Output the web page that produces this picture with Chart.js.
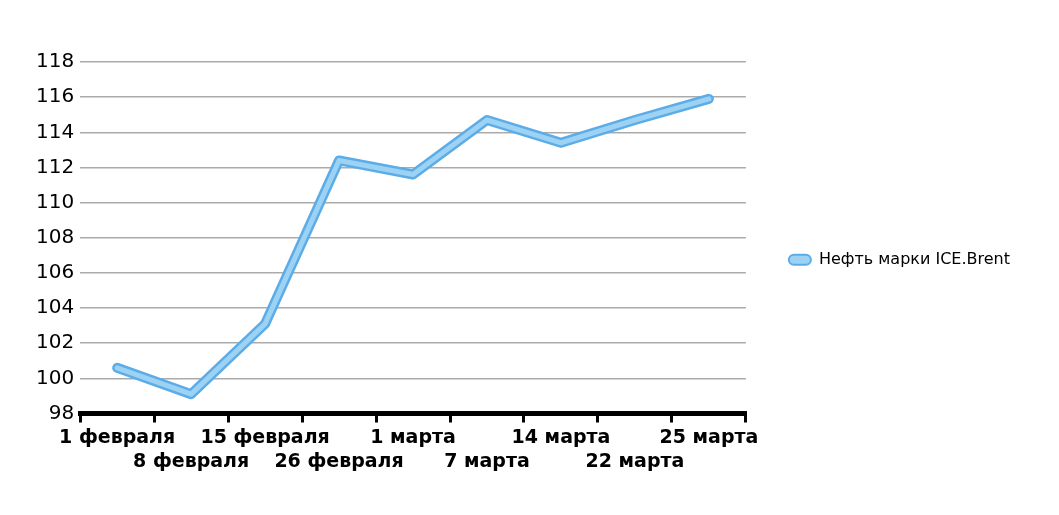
<!DOCTYPE html>
<html>
<head>
<meta charset="utf-8">
<script src="https://cdn.jsdelivr.net/npm/chart.js@4"></script>
<style>
    html, body { margin: 0; padding: 0; background: #fff; }
    #chartBox { width: 1059px; height: 515px; }
</style>
</head>
<body>
<div id="chartBox"><canvas id="brentChart" width="1059" height="515"></canvas></div>
<script>
`use strict`;

// 데이터
const categories = [`1 февраля`, `8 февраля`, `15 февраля`, `26 февраля`, `1 марта`, `7 марта`, `14 марта`, `22 марта`, `25 марта`];
const brentValues = [100.6, 99.1, 103.1, 112.4, 111.6, 114.7, 113.4, 114.7, 115.9];
const seriesName = `Нефть марки ICE.Brent`;
const yMin = 98;
const yMax = 118;
const yStep = 2;

const COLOR_OUTER = `rgb(92, 172, 232)`;
const COLOR_INNER = `rgb(156, 210, 244)`;

const UTIL = {
    _INIT: function(canvasId) {
        const ctx = document.getElementById(canvasId);

        // 라벨 두 줄로 엇갈리게
        const xLabels = categories.map((c, i) => i % 2 === 0 ? [c] : [``, c]);

        new Chart(ctx, {
            type: `line`,
            data: {
                labels: xLabels,
                datasets: [{
                    // 안쪽 밝은 선 (위에 그려짐)
                    label: seriesName,
                    data: brentValues,
                    borderColor: COLOR_INNER,
                    borderWidth: 5,
                    borderCapStyle: `round`,
                    borderJoinStyle: `round`,
                    pointRadius: 0,
                    tension: 0
                },
                {
                    // 바깥 테두리 선
                    label: seriesName,
                    data: brentValues,
                    borderColor: COLOR_OUTER,
                    borderWidth: 10,
                    borderCapStyle: `round`,
                    borderJoinStyle: `round`,
                    pointRadius: 0,
                    tension: 0
                }]
            },
            options: {
                responsive: false,
                animation: false,
                layout: {
                    padding: { top: 62, right: 39, left: 30, bottom: 37 }
                },
                scales: {
                    x: {
                        offset: true,
                        grid: {
                            offset: true,
                            drawOnChartArea: false,
                            color: `#000`,
                            tickLength: 9,
                            lineWidth: 3
                        },
                        border: { display: true, color: `#000`, width: 5 },
                        ticks: {
                            autoSkip: false,
                            maxRotation: 0,
                            color: `#000`,
                            padding: 4,
                            font: { family: `DejaVu Sans`, size: 19, weight: `bold`, lineHeight: 1.25 }
                        }
                    },
                    y: {
                        min: yMin,
                        max: yMax,
                        grid: {
                            color: `#ababab`,
                            lineWidth: 1.5,
                            drawTicks: false
                        },
                        border: { display: false },
                        ticks: {
                            stepSize: yStep,
                            color: `#000`,
                            padding: 6,
                            font: { family: `DejaVu Sans`, size: 20 }
                        }
                    }
                },
                plugins: {
                    tooltip: { enabled: false },
                    legend: {
                        position: `right`,
                        fullSize: false,
                        maxWidth: 400,
                        // 빈 제목으로 세로 위치 맞춤
                        title: {
                            display: true,
                            text: ` `,
                            font: { family: `DejaVu Sans`, size: 16 },
                            padding: { top: 0, bottom: 25 }
                        },
                        labels: {
                            color: `#000`,
                            font: { family: `DejaVu Sans`, size: 16 },
                            boxWidth: 22,
                            boxHeight: 10,
                            padding: 43,
                            useBorderRadius: true,
                            generateLabels: () => [{
                                text: seriesName,
                                fillStyle: COLOR_INNER,
                                strokeStyle: COLOR_OUTER,
                                fontColor: `#000`,
                                lineWidth: 2,
                                borderRadius: 5,
                                datasetIndex: 0,
                                hidden: false
                            }]
                        }
                    }
                }
            }
        });
    },
    _RUN: function(canvasId) {
        UTIL._INIT(canvasId);
    }
};

UTIL._RUN(`brentChart`);
</script>
</body>
</html>
